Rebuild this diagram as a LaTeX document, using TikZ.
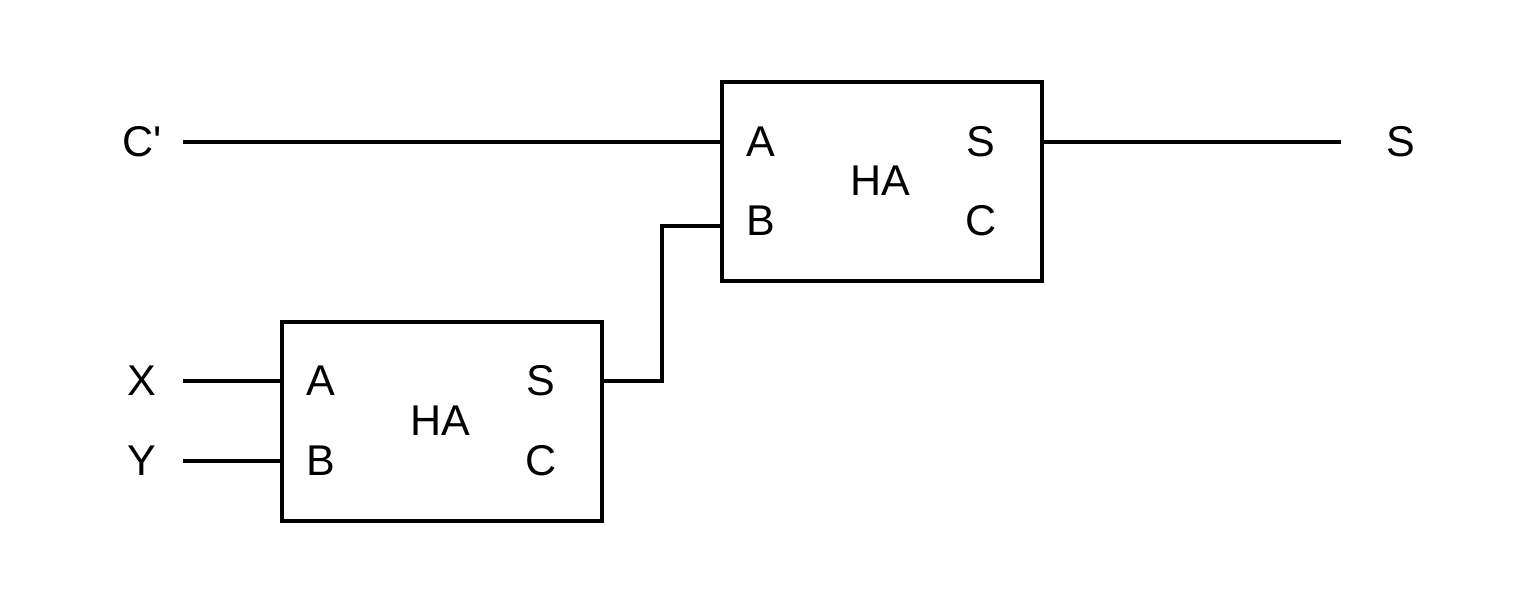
\documentclass[tikz,border=0pt]{standalone}
\usepackage{fontspec}
\setmainfont{Liberation Sans}
\newfontfamily\plainfont[Ligatures=ResetAll]{Liberation Sans}
\begin{document}
\begin{tikzpicture}[x=0.02cm,y=-0.02cm,line width=1.8pt,
  lbl/.style={font=\fontsize{24.5}{27}\selectfont,inner sep=0pt},
  box/.style={draw,line width=1.8pt,minimum width=320*0.02cm,minimum height=199*0.02cm,inner sep=0pt}]
\useasboundingbox (0,0) rectangle (1540,600);
\node[box] (ha2) at (882,181.5) {};
\node[box] (ha1) at (442,421.5) {};
\node[lbl] at (880,181) {HA};
\node[lbl] at (761,142) {A};
\node[lbl] at (761,221) {B};
\node[lbl] at (981,142) {S};
\node[lbl] at (981,221) {C};
\node[lbl] at (440,421) {HA};
\node[lbl] at (321,381) {A};
\node[lbl] at (321,461) {B};
\node[lbl] at (541,381) {S};
\node[lbl] at (541,461) {C};
\node[lbl,font=\plainfont\fontsize{24.5}{27}\selectfont] (cp) at (142,142) {C'};
\node[lbl] (x) at (142,381) {X};
\node[lbl] (y) at (142,461) {Y};
\node[lbl] (s) at (1401,142) {S};
\coordinate (cpe) at (183,142);
\coordinate (xe) at (183,381);
\coordinate (ye) at (183,461);
\coordinate (se) at (1341,142);
\draw (cpe) -- (ha2.west |- cpe);
\draw (xe) -- (ha1.west |- xe);
\draw (ye) -- (ha1.west |- ye);
\draw (ha2.east |- se) -- (se);
\draw (ha1.east |- xe) -- (662,381) -- (662,226) -- (ha2.west |- 0,226);
\end{tikzpicture}
\end{document}
